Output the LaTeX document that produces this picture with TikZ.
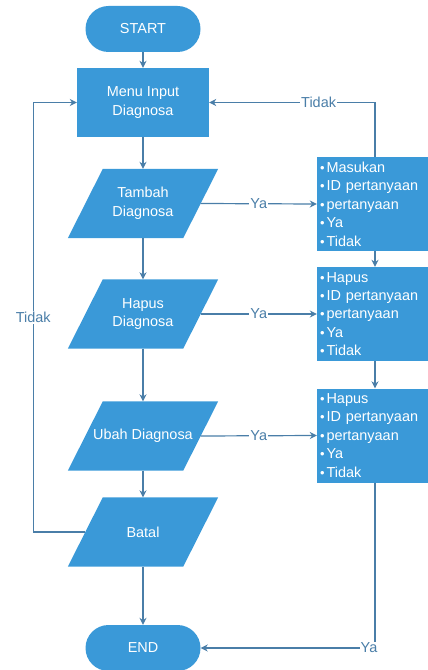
\documentclass[tikz,border=0pt]{standalone}
\usepackage{fontspec}
\setmainfont{Liberation Sans}
\usetikzlibrary{arrows.meta,backgrounds}

\definecolor{boxblue}{RGB}{58,153,216}
\definecolor{lineblue}{RGB}{74,126,168}

\newcommand{\itm}{{\fontsize{13}{13}\selectfont\textbullet}\hspace{2bp}}
% parallelogram behind an io node
\newcommand{\ioshape}[1]{\fill[boxblue] ([xshift=-17.5bp]#1.south west)
    -- ([xshift=-17.5bp]#1.south east) -- ([xshift=17.5bp]#1.north east)
    -- ([xshift=17.5bp]#1.north west) -- cycle;}

\tikzset{
  base/.style={fill=boxblue, text=white, align=center, inner sep=2bp,
    font=\fontsize{14.5}{19}\selectfont},
  terminal/.style={base, rectangle, rounded corners=23bp,
    minimum width=115bp, minimum height=46bp},
  process/.style={base, rectangle, minimum width=132bp, minimum height=69bp},
  io/.style={base, fill=none, rectangle, minimum width=115bp, minimum height=69bp},
  listbox/.style={base, rectangle, align=left, text width=110bp,
    minimum height=94bp, inner sep=3bp, font=\fontsize{14.5}{18.5}\selectfont},
  flow/.style={draw=lineblue, line width=1.2bp, -{Stealth[length=7bp,width=7bp]}},
  lbl/.style={fill=white, text=lineblue, inner sep=1bp,
    font=\fontsize{14.5}{17}\selectfont},
}

\begin{document}
\begin{tikzpicture}[x=1bp, y=-1bp]
    \useasboundingbox (0,0) rectangle (427,670);

    % Main column
    \node[terminal] (start) at (143,29) {START};
    \node[process] (menu) at (143,102.5) {Menu Input\\Diagnosa};
    \node[io] (tambah) at (143,203.5) {Tambah\\Diagnosa};
    \node[io] (hapus) at (143,314) {Hapus\\Diagnosa};
    \node[io] (ubah) at (143,436) {Ubah Diagnosa};
    \node[io] (batal) at (143,532) {Batal};
    \node[terminal] (stop) at (143,648) {END};

    \begin{scope}[on background layer]
        \ioshape{tambah}
        \ioshape{hapus}
        \ioshape{ubah}
        \ioshape{batal}
    \end{scope}

    % Right column
    \node[listbox] (masukan) at (375,204)
        {\itm Masukan\\\itm ID pertanyaan\\\itm pertanyaan\\\itm Ya\\\itm Tidak};
    \node[listbox] (hapuslist) at (375,314)
        {\itm Hapus\\\itm ID pertanyaan\\\itm pertanyaan\\\itm Ya\\\itm Tidak};
    \node[listbox] (ubahlist) at (375,435.5)
        {\itm Hapus\\\itm ID pertanyaan\\\itm pertanyaan\\\itm Ya\\\itm Tidak};

    % Main flow
    \draw[flow] (start) -- (menu);
    \draw[flow] (menu) -- (tambah);
    \draw[flow] (tambah) -- (hapus);
    \draw[flow] (hapus) -- (ubah);
    \draw[flow] (ubah) -- (batal);
    \draw[flow] (batal) -- (stop);

    % Ya branches
    \draw[flow] (tambah.east) -- node[lbl] {Ya} (masukan.west);
    \draw[flow] (hapus.east) -- node[lbl] {Ya} (hapuslist.west);
    \draw[flow] (ubah.east) -- node[lbl] {Ya} (ubahlist.west);

    % Right column links
    \draw[flow] (masukan) -- (hapuslist);
    \draw[flow] (hapuslist) -- (ubahlist);
    \draw[flow] (masukan.north) |- node[lbl, pos=0.67] {Tidak} (menu.east);
    \draw[flow] (ubahlist.south) |- node[lbl, pos=0.5, xshift=-6bp] {Ya} (stop.east);

    % Back loop
    \draw[flow] (batal.west) -- ++(-52,0) |- node[lbl, pos=0.25] {Tidak} (menu.west);
\end{tikzpicture}
\end{document}
